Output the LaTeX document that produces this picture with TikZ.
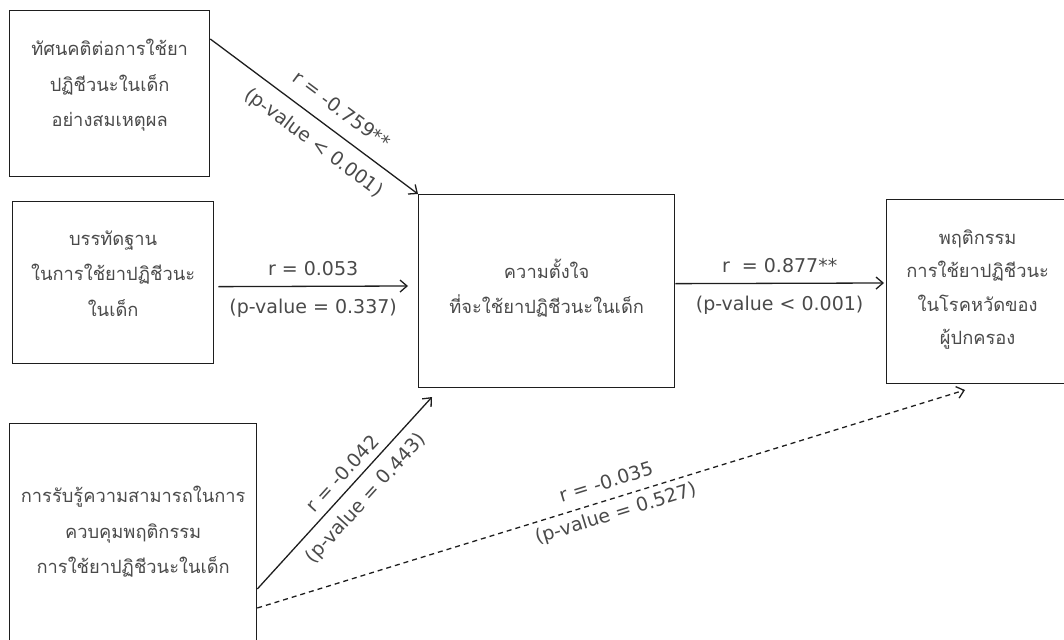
\documentclass[tikz,border=0pt]{standalone}
\usepackage{fontspec}
\setmainfont{DejaVu Sans}
\newfontfamily\thai[Script=Thai]{Loma}
\usetikzlibrary{arrows.meta,calc}
\definecolor{txt}{HTML}{4A4A4A}
\definecolor{ln}{HTML}{1E1E1E}
\begin{document}
\begin{tikzpicture}[x=1pt,y=-1pt,
  box/.style={draw=ln,line width=1.3pt,inner sep=0pt,anchor=north west},
  boxtext/.style={align=center,font=\thai\fontsize{18.3}{35.5}\selectfont,text=txt,inner sep=0pt},
  arr/.style={draw=ln,line width=1.3pt,-{Straight Barb[length=7pt,width=12pt,line width=1.3pt]}},
  lab/.style={font=\fontsize{19}{22}\selectfont,text=txt,inner sep=2pt}]
\useasboundingbox (0,0) rectangle (1064,639);
\node[box,minimum width=200pt,minimum height=166pt] (b1) at (9,10) {};
\node[boxtext] (b1t) at ($(b1.center)+(0,-8)$) {ทัศนคติต่อการใช้ยา\\ปฏิชีวนะในเด็ก\\อย่างสมเหตุผล};
\node[box,minimum width=201pt,minimum height=162pt] (b2) at (12,201) {};
\node[boxtext] (b2t) at ($(b2.center)+(0,-9)$) {บรรทัดฐาน\\ในการใช้ยาปฏิชีวนะ\\ในเด็ก};
\node[box,minimum width=247pt,minimum height=230pt] (b3) at (9,423) {};
\node[boxtext] (b3t) at ($(b3.center)+(0,-7)$) {การรับรู้ความสามารถในการ\\ควบคุมพฤติกรรม\\การใช้ยาปฏิชีวนะในเด็ก};
\node[box,minimum width=256pt,minimum height=193pt] (c) at (418,194) {};
\node[boxtext] (ct) at ($(c.center)+(0,-3)$) {ความตั้งใจ\\ที่จะใช้ยาปฏิชีวนะในเด็ก};
\node[box,minimum width=190pt,minimum height=184pt] (r) at (886,199) {};
\node[boxtext,font=\thai\fontsize{18.3}{33.5}\selectfont] (rt) at ($(r.center)+(-4,-2)$) {พฤติกรรม\\การใช้ยาปฏิชีวนะ\\ในโรคหวัดของ\\ผู้ปกครอง};
\coordinate (a1s) at ($(b1.north east)+(0,29)$);
\coordinate (a2s) at ($(b2.east)+(4,4)$);
\coordinate (a2e) at (408,286);
\coordinate (a3s) at ($(c.east)+(0,-7.5)$);
\coordinate (a3e) at (884,283);
\coordinate (a4s) at ($(b3.north east)+(0,166)$);
\coordinate (a4e) at (432,397);
\coordinate (a5s) at ($(b3.north east)+(0,185)$);
\coordinate (a5e) at (965,390);
\draw[arr] (a1s) -- node[lab,sloped,above=12pt,pos=0.57]{r = -0.759**} node[lab,sloped,below=10pt,pos=0.56]{(p-value < 0.001)} (c.north west);
\draw[arr] (a2s) -- node[lab,above=8pt]{r = 0.053} node[lab,below=10pt]{(p-value = 0.337)} (a2e);
\draw[arr] (a3s) -- node[lab,above=8pt]{r\ \ = 0.877**} node[lab,below=10pt]{(p-value < 0.001)} (a3e);
\draw[arr] (a4s) -- node[lab,sloped,above=5pt,pos=0.55]{r = -0.042} node[lab,sloped,below=8pt,pos=0.54]{(p-value = 0.443)} (a4e);
\draw[arr,dash pattern=on 5pt off 4pt] (a5s) -- node[lab,sloped,above=8pt,pos=0.5]{r = -0.035} node[lab,sloped,below=4pt,pos=0.5]{(p-value = 0.527)} (a5e);
\end{tikzpicture}
\end{document}
